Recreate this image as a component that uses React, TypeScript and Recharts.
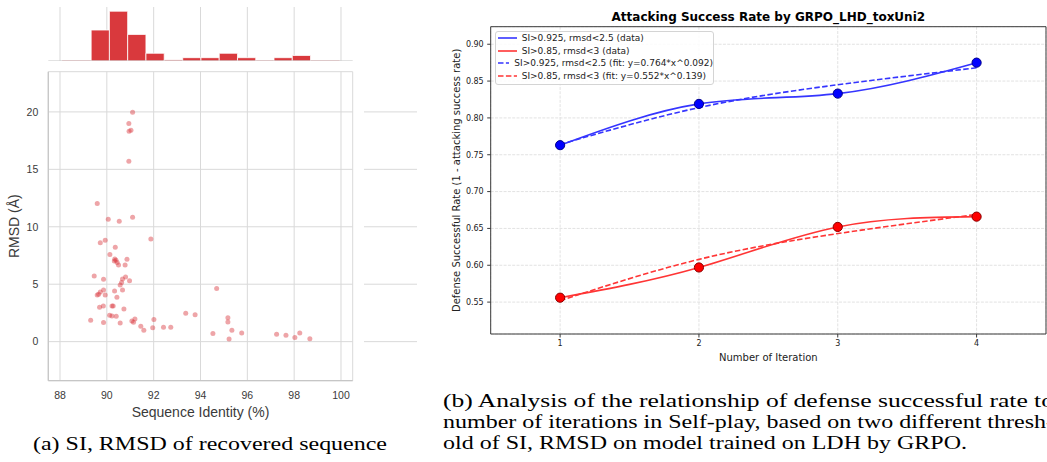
import {
  ComposedChart,
  ScatterChart,
  Scatter,
  LineChart,
  Line,
  XAxis,
  YAxis,
  CartesianGrid,
  ReferenceArea,
  ReferenceLine,
  Label,
} from 'recharts'

// ---- (a) joint plot: sequence identity vs RMSD ----
const siTicks = [88, 90, 92, 94, 96, 98, 100]
const rmsdTicks = [0, 5, 10, 15, 20]

const siValues = [
  91.1, 90.94, 90.95, 91.03, 90.94, 89.59, 91.1, 90.06, 90.53, 91.88,
  89.93, 89.72, 90.36, 90.13, 90.34, 90.86, 90.39, 90.32, 90.44, 90.5,
  90.78, 89.46, 90.8, 89.86, 90.67, 90.97, 90.63, 90.57, 94.69, 90.67,
  90.33, 89.86, 89.72, 89.65, 89.59, 89.93, 90.43, 89.85, 90.22, 90.27,
  89.69, 90.73, 90.12, 90.22, 90.4, 93.37, 93.77, 89.31, 92.01, 91.2,
  91.07, 91.14, 89.86, 90.57, 95.17, 95.17, 91.45, 91.96, 92.42, 92.73,
  91.58, 95.34, 94.53, 95.76, 97.25, 97.65, 98.24, 98.03, 95.22, 98.67,
]
const rmsdValues = [
  19.98, 18.99, 18.32, 18.41, 15.71, 12.02, 10.83, 10.66, 10.48, 8.94,
  8.83, 8.62, 8.22, 7.58, 7.2, 7.17, 7.08, 7.03, 6.88, 6.68,
  6.68, 5.72, 5.63, 5.43, 5.46, 5.31, 5.14, 4.94, 4.62, 4.5,
  4.41, 4.5, 4.33, 4.12, 4.07, 4.07, 3.86, 3.11, 3.11, 3.11,
  2.99, 2.85, 2.29, 2.24, 2.21, 2.47, 2.35, 1.86, 1.92, 1.97,
  1.8, 1.68, 1.66, 1.63, 2.09, 1.71, 1.34, 1.22, 1.25, 1.25,
  0.99, 0.99, 0.7, 0.75, 0.64, 0.55, 0.75, 0.35, 0.23, 0.26,
]

// marginal histograms
const siBinEdges = [89.33, 90.11, 90.89, 91.67, 92.45, 93.24, 94.02, 94.8, 95.58, 96.36, 97.14, 97.92, 98.7]
const siBinCounts = [28, 45, 24, 7, 1, 3, 3, 7, 3, 0, 3, 5]
const rmsdBinEdges = [0.24, 2.69, 5.15, 7.6, 10.05, 12.51, 14.96, 17.41, 19.86]
const rmsdBinCounts = [49, 24, 23, 6, 6, 0, 1, 6]

// ---- (b) defense success rate per iteration ----
const iterations = [1, 2, 3, 4]
const strictData = [0.763, 0.819, 0.833, 0.875]
const looseData = [0.556, 0.597, 0.652, 0.666]
const strictFit = [0.764, 0.814, 0.845, 0.868]
const looseFit = [0.552, 0.608, 0.643, 0.669]
const rateTicks = [0.55, 0.6, 0.65, 0.7, 0.75, 0.8, 0.85, 0.9]

const captionA = '(a) SI, RMSD of recovered sequence'
const captionB = [
  '(b) Analysis of the relationship of defense successful rate to',
  'number of iterations in Self-play, based on two different thresh-',
  'old of SI, RMSD on model trained on LDH by GRPO.',
]

const scatterPoints = siValues.map((si, i) => ({ si, rmsd: rmsdValues[i] }))
const rateTable = iterations.map((it, i) => ({
  it,
  strictData: strictData[i],
  looseData: looseData[i],
  strictFit: strictFit[i],
  looseFit: looseFit[i],
}))

const legendItems = [
  { name: 'SI>0.925, rmsd<2.5 (data)', color: '#3535ff', dashed: false },
  { name: 'SI>0.85, rmsd<3 (data)', color: '#ff3535', dashed: false },
  { name: 'SI>0.925, rmsd<2.5 (fit: y=0.764*x^0.092)', color: '#3535ff', dashed: true },
  { name: 'SI>0.85, rmsd<3 (fit: y=0.552*x^0.139)', color: '#ff3535', dashed: true },
]

const SI_DOMAIN: [number, number] = [87.5, 100.5]
const RMSD_DOMAIN: [number, number] = [-3.4, 23.5]
const RATE_DOMAIN: [number, number] = [0.5067, 0.9238]

const gridGray = '#d9d9d9'
const spineGray = '#c6c6c6'
const histRed = '#d9393d'
const serif = "'Liberation Serif', 'Times New Roman', Times, serif"

const sansTick = { fontSize: 10.5, fill: '#3a3a3a' }
const mplTick = { fontSize: 8, fill: '#222' }

function ScatterDot(props: any) {
  return <circle cx={props.cx} cy={props.cy} r={2.5} fill="#d9383e" fillOpacity={0.45} />
}

export default function App() {
  return (
    <div
      style={{
        position: 'fixed',
        left: 0,
        top: 0,
        width: 1047,
        height: 462,
        overflow: 'hidden',
        background: '#fff',
      }}
    >
      {/* (a) top marginal */}
      <div style={{ position: 'absolute', left: 0, top: 0, fontFamily: 'Liberation Sans, Arial' }}>
        <ComposedChart width={360} height={61} margin={{ top: 7, right: 7.3, bottom: 0, left: 48.3 }}>
          <CartesianGrid horizontal={false} verticalValues={siTicks} stroke={gridGray} />
          <XAxis type="number" dataKey="x" domain={SI_DOMAIN} ticks={siTicks} hide allowDataOverflow />
          <YAxis type="number" domain={[0, 48.8]} hide allowDataOverflow />
          <ReferenceArea x1={88.09} x2={99.94} y1={0} y2={0.5} fill="#e06c70" fillOpacity={0.7} stroke="none" />
          {siBinCounts.map((c, i) =>
            c > 0 ? (
              <ReferenceArea
                key={i}
                x1={siBinEdges[i]}
                x2={siBinEdges[i + 1]}
                y1={0}
                y2={c}
                fill={histRed}
                fillOpacity={1}
                stroke="#fff"
                strokeWidth={0.8}
              />
            ) : null
          )}
          <ReferenceLine y={0} stroke={spineGray} strokeWidth={1.25} />
        </ComposedChart>
      </div>

      {/* (a) main scatter */}
      <div style={{ position: 'absolute', left: 0, top: 0, fontFamily: 'Liberation Sans, Arial' }}>
        <ScatterChart width={360} height={420} margin={{ top: 71.7, right: 7.3, bottom: 0, left: 0 }}>
          <CartesianGrid stroke={gridGray} />
          <XAxis
            type="number"
            dataKey="si"
            domain={SI_DOMAIN}
            ticks={siTicks}
            allowDataOverflow
            height={39.3}
            tickSize={0}
            tickMargin={11}
            tickLine={false}
            axisLine={{ stroke: spineGray, strokeWidth: 1.25 }}
            tick={sansTick}
          >
            <Label value="Sequence Identity (%)" position="insideBottom" offset={3} style={{ fontSize: 14, fill: '#3a3a3a' }} />
          </XAxis>
          <YAxis
            type="number"
            dataKey="rmsd"
            domain={RMSD_DOMAIN}
            ticks={rmsdTicks}
            allowDataOverflow
            width={48.3}
            tickSize={0}
            tickMargin={10}
            tickLine={false}
            axisLine={{ stroke: spineGray, strokeWidth: 1.25 }}
            tick={sansTick}
          >
            <Label
              value="RMSD (Å)"
              angle={-90}
              position="insideLeft"
              offset={14.5}
              style={{ textAnchor: 'middle', fontSize: 14, fill: '#3a3a3a' }}
            />
          </YAxis>
          <Scatter data={scatterPoints} shape={ScatterDot} isAnimationActive={false} />
        </ScatterChart>
      </div>

      {/* (a) right marginal */}
      <div style={{ position: 'absolute', left: 364, top: 0 }}>
        <ComposedChart width={53} height={420} margin={{ top: 71.7, right: 0, bottom: 39.3, left: 0 }}>
          <CartesianGrid vertical={false} horizontalValues={rmsdTicks} stroke={gridGray} />
          <XAxis type="number" domain={[0, 53]} hide allowDataOverflow />
          <YAxis type="number" domain={RMSD_DOMAIN} ticks={rmsdTicks} hide allowDataOverflow />
          <ReferenceArea x1={0} x2={0.5} y1={-1.83} y2={22.4} fill="#e06c70" fillOpacity={0.7} stroke="none" />
          {rmsdBinCounts.map((c, i) =>
            c > 0 ? (
              <ReferenceArea
                key={i}
                x1={0}
                x2={c}
                y1={rmsdBinEdges[i]}
                y2={rmsdBinEdges[i + 1]}
                fill={histRed}
                fillOpacity={1}
                stroke="#fff"
                strokeWidth={0.8}
              />
            ) : null
          )}
          <ReferenceLine x={0} stroke={spineGray} strokeWidth={1.25} />
        </ComposedChart>
      </div>

      {/* (b) line chart */}
      <div style={{ position: 'absolute', left: 420, top: 0, fontFamily: 'DejaVu Sans' }}>
        <LineChart width={627} height={380} data={rateTable} margin={{ top: 26.7, right: 1, bottom: 0, left: 0 }}>
          <CartesianGrid stroke="#e2e2e2" strokeDasharray="3 1.3" />
          <XAxis
            dataKey="it"
            type="number"
            domain={[0.5, 4.5]}
            ticks={iterations}
            allowDataOverflow
            height={46}
            tickSize={3.5}
            tickMargin={3}
            axisLine={{ stroke: '#3a3a3a' }}
            tickLine={{ stroke: '#3a3a3a' }}
            tick={mplTick}
          >
            <Label value="Number of Iteration" position="insideBottom" offset={19.5} style={{ fontSize: 10, fill: '#222' }} />
          </XAxis>
          <YAxis
            type="number"
            domain={RATE_DOMAIN}
            ticks={rateTicks}
            tickFormatter={(v: number) => v.toFixed(2)}
            allowDataOverflow
            width={70.7}
            tickSize={3.5}
            tickMargin={3.5}
            axisLine={{ stroke: '#3a3a3a' }}
            tickLine={{ stroke: '#3a3a3a' }}
            tick={mplTick}
          >
            <Label
              value="Defense Successful Rate (1 - attacking success rate)"
              angle={-90}
              position="insideLeft"
              offset={36}
              style={{ textAnchor: 'middle', fontSize: 10, fill: '#222' }}
            />
          </YAxis>
          <ReferenceLine y={RATE_DOMAIN[1]} stroke="#3a3a3a" />
          <ReferenceLine x={4.5} stroke="#3a3a3a" />
          <Line type="natural" dataKey="strictFit" stroke="#3535ff" strokeWidth={1.6} strokeDasharray="5.5 2.4" dot={false} activeDot={false} isAnimationActive={false} />
          <Line type="natural" dataKey="looseFit" stroke="#ff3535" strokeWidth={1.6} strokeDasharray="5.5 2.4" dot={false} activeDot={false} isAnimationActive={false} />
          <Line
            type="natural"
            dataKey="strictData"
            stroke="#3535ff"
            strokeWidth={1.6}
            dot={{ r: 4.6, fill: '#0000ff', stroke: '#00008b', strokeWidth: 1 }}
            activeDot={false}
            isAnimationActive={false}
          />
          <Line
            type="natural"
            dataKey="looseData"
            stroke="#ff3535"
            strokeWidth={1.6}
            dot={{ r: 4.6, fill: '#ff0000', stroke: '#8b0000', strokeWidth: 1 }}
            activeDot={false}
            isAnimationActive={false}
          />
        </LineChart>
      </div>

      {/* (b) title */}
      <div
        style={{
          position: 'absolute',
          left: 490.7,
          width: 555.3,
          top: 10.3,
          textAlign: 'center',
          fontFamily: 'DejaVu Sans',
          fontWeight: 'bold',
          fontSize: 12,
          lineHeight: '14px',
          color: '#000',
        }}
      >
        Attacking Success Rate by GRPO_LHD_toxUni2
      </div>

      {/* (b) legend */}
      <div
        style={{
          position: 'absolute',
          left: 495,
          top: 30.7,
          width: 219,
          height: 54.3,
          boxSizing: 'border-box',
          border: '1px solid #d4d4d4',
          borderRadius: 3,
          background: 'rgba(255,255,255,0.85)',
          fontFamily: 'DejaVu Sans',
          fontSize: 9,
          color: '#222',
        }}
      >
        {legendItems.map((item, i) => (
          <div
            key={item.name}
            style={{
              position: 'absolute',
              left: 0,
              top: i * 12.9 - 0.5,
              height: 12.9,
              width: 217,
              display: 'flex',
              alignItems: 'center',
              whiteSpace: 'nowrap',
            }}
          >
            <svg width={19} height={4} style={{ marginLeft: 1.7, marginRight: 5 }}>
              <line
                x1={0}
                y1={2}
                x2={19}
                y2={2}
                stroke={item.color}
                strokeWidth={1.6}
                strokeDasharray={item.dashed ? '5.5 2.4' : undefined}
              />
            </svg>
            <span>{item.name}</span>
          </div>
        ))}
      </div>

      {/* captions */}
      <svg
        width={1047}
        height={462}
        style={{ position: 'absolute', left: 0, top: 0, pointerEvents: 'none', fontFamily: serif }}
      >
        <text x={33} y={449.5} fontSize={19.5} textLength={354} lengthAdjust="spacingAndGlyphs" style={{ fontFamily: serif }}>
          {captionA}
        </text>
        <text x={443} y={406.5} fontSize={19.5} textLength={611} lengthAdjust="spacingAndGlyphs" style={{ fontFamily: serif }}>
          {captionB[0]}
        </text>
        <text x={443} y={427.8} fontSize={19.5} textLength={611} lengthAdjust="spacingAndGlyphs" style={{ fontFamily: serif }}>
          {captionB[1]}
        </text>
        <text x={443} y={449.3} fontSize={19.5} textLength={524} lengthAdjust="spacingAndGlyphs" style={{ fontFamily: serif }}>
          {captionB[2]}
        </text>
      </svg>
    </div>
  )
}
